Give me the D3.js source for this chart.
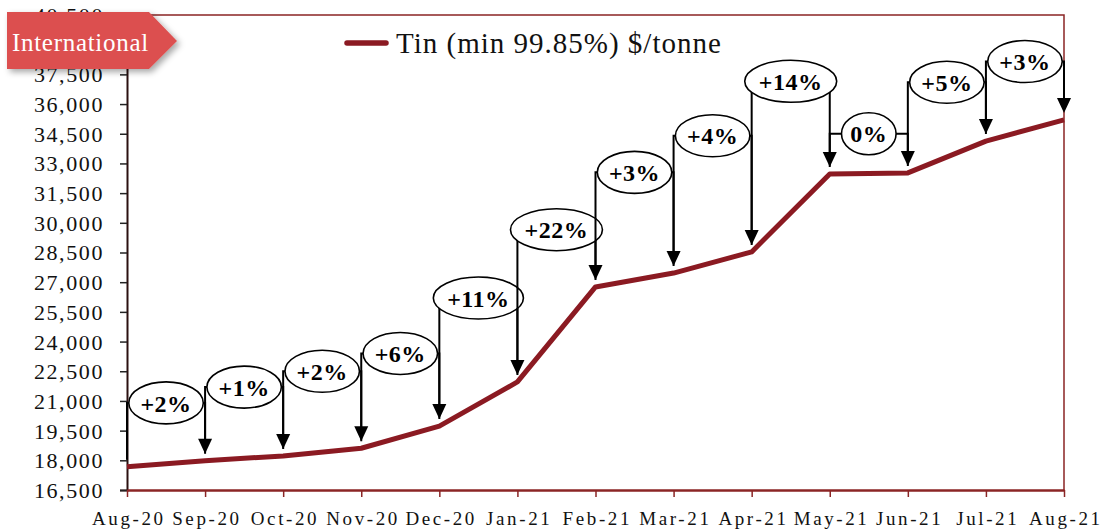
<!DOCTYPE html>
<meta charset="utf-8">
<script src="https://d3js.org/d3.v7.min.js"></script>
<style>
body { margin: 0; background: #fff; }
</style>
<div id="chart"></div>
<script>
var months = ["Aug-20", "Sep-20", "Oct-20", "Nov-20", "Dec-20", "Jan-21", "Feb-21",
              "Mar-21", "Apr-21", "May-21", "Jun-21", "Jul-21", "Aug-21"];
var tinPrice = [17680, 17980, 18220, 18610, 19730, 21960, 26760, 27460, 28530, 32470, 32520, 34130, 35200];
// month on month change, shown in the ovals
var changeLabels = ["+2%", "+1%", "+2%", "+6%", "+11%", "+22%", "+3%", "+4%", "+14%", "0%", "+5%", "+3%"];
// level (in $/tonne) where each oval sits
var calloutLevel = [20900, 21700, 22500, 23400, 26200, 29650, 32550, 34400, 37150, 34500, 37100, 38150];
var yTicks = d3.range(16500, 40501, 1500);
var seriesName = "Tin (min 99.85%) $/tonne";
var tagText = "International";

var width = 1102, height = 532;
var margin = {top: 15, right: 38, bottom: 42, left: 127};
var red = "#8b1a22", border = "#8b2525";

var svg = d3.select("#chart").append("svg")
    .attr("width", width)
    .attr("height", height)
    .style("font-family", "'Liberation Serif', serif");

var x = d3.scalePoint().domain(months).range([margin.left, width - margin.right]);
var y = d3.scaleLinear().domain([16500, 40500]).range([height - margin.bottom, margin.top]);

// frame top + right
svg.append("path")
    .attr("d", "M" + margin.left + "," + y(40500) + "H" + x("Aug-21") + "V" + y(16500))
    .attr("fill", "none")
    .attr("stroke", border)
    .attr("stroke-width", 1.5);

// y axis
var yAxis = svg.append("g")
    .attr("transform", "translate(" + margin.left + ",0)")
    .call(d3.axisLeft(y).tickValues(yTicks).tickSize(7).tickPadding(0).tickFormat(d3.format(",")));
yAxis.select(".domain").attr("stroke", "#2b1010").attr("stroke-width", 2);
yAxis.selectAll(".tick line").attr("stroke", "#222").attr("stroke-width", 1.5);
yAxis.selectAll(".tick text")
    .attr("x", -23)
    .attr("dy", "0.34em")
    .style("font-family", "'Liberation Serif', serif")
    .style("font-size", "22px")
    .style("letter-spacing", "1.6px")
    .attr("fill", "#111");

// x axis
var xAxis = svg.append("g")
    .attr("transform", "translate(0," + y(16500) + ")")
    .call(d3.axisBottom(x).tickSize(7).tickSizeOuter(0));
xAxis.select(".domain").attr("stroke", border).attr("stroke-width", 2.5);
xAxis.selectAll(".tick line").attr("stroke", border).attr("stroke-width", 1.5);
xAxis.selectAll(".tick text")
    .attr("y", 22)
    .attr("dy", "0.71em")
    .attr("dx", 1.3)
    .style("font-family", "'Liberation Serif', serif")
    .style("font-size", "19px")
    .style("letter-spacing", "2.6px")
    .attr("fill", "#111");

// price line
var line = d3.line()
    .x(function(d, i) { return x(months[i]); })
    .y(function(d) { return y(d); });

svg.append("path")
    .datum(tinPrice)
    .attr("d", line)
    .attr("fill", "none")
    .attr("stroke", red)
    .attr("stroke-width", 5)
    .attr("stroke-linejoin", "round");

// callouts
var gap = 7, headH = 15, headW = 7;
changeLabels.forEach(function(lab, i) {
  var x0 = x(months[i]), x1 = x(months[i + 1]);
  var yE = y(calloutLevel[i]);
  var cx = (x0 + x1) / 2;
  var g = svg.append("g");
  var yStart = y(tinPrice[i]) - gap;
  var yTip = y(tinPrice[i + 1]) - gap;

  g.append("path")
    .attr("d", "M" + x0 + "," + yStart + "V" + yE + "H" + cx +
               "M" + cx + "," + yE + "H" + x1 + "V" + (yTip - headH + 1))
    .attr("fill", "none")
    .attr("stroke", "#000")
    .attr("stroke-width", 2);

  g.append("path")
    .attr("d", "M" + (x1 - headW) + "," + (yTip - headH) + "L" + (x1 + headW) + "," + (yTip - headH) +
               "L" + x1 + "," + yTip + "Z")
    .attr("fill", "#000");

  var ell = g.append("ellipse")
    .attr("cx", cx)
    .attr("cy", yE)
    .attr("ry", 21)
    .attr("fill", "#fff")
    .attr("stroke", "#000")
    .attr("stroke-width", 1.6);

  var t = g.append("text")
    .attr("x", cx)
    .attr("y", yE)
    .attr("dy", "0.36em")
    .attr("text-anchor", "middle")
    .style("font-size", "24px")
    .style("font-weight", "bold")
    .style("letter-spacing", "0.5px")
    .attr("fill", "#000")
    .text(lab);

  var tw = t.node().getComputedTextLength();
  ell.attr("rx", (tw + 2) * 0.7);
});

// legend
svg.append("line")
    .attr("x1", 347).attr("x2", 386)
    .attr("y1", 43).attr("y2", 43)
    .attr("stroke", red)
    .attr("stroke-width", 5.5)
    .attr("stroke-linecap", "round");
svg.append("text")
    .attr("x", 396)
    .attr("y", 53)
    .style("font-size", "29px")
    .style("letter-spacing", "1px")
    .attr("fill", "#111")
    .text(seriesName);

// "International" tag
var defs = svg.append("defs");
var f = defs.append("filter").attr("id", "shadow").attr("x", "-20%").attr("y", "-30%")
    .attr("width", "150%").attr("height", "170%");
f.append("feDropShadow")
    .attr("dx", 3).attr("dy", 3).attr("stdDeviation", 3)
    .attr("flood-color", "#000").attr("flood-opacity", 0.35);

svg.append("path")
    .attr("d", "M7,12H149L177,41L149,69H7Z")
    .attr("fill", "#dc5050")
    .attr("filter", "url(#shadow)");
svg.append("text")
    .attr("x", 12)
    .attr("y", 51)
    .style("font-size", "25px")
    .style("letter-spacing", "0.7px")
    .attr("fill", "#fff")
    .text(tagText);
</script>
